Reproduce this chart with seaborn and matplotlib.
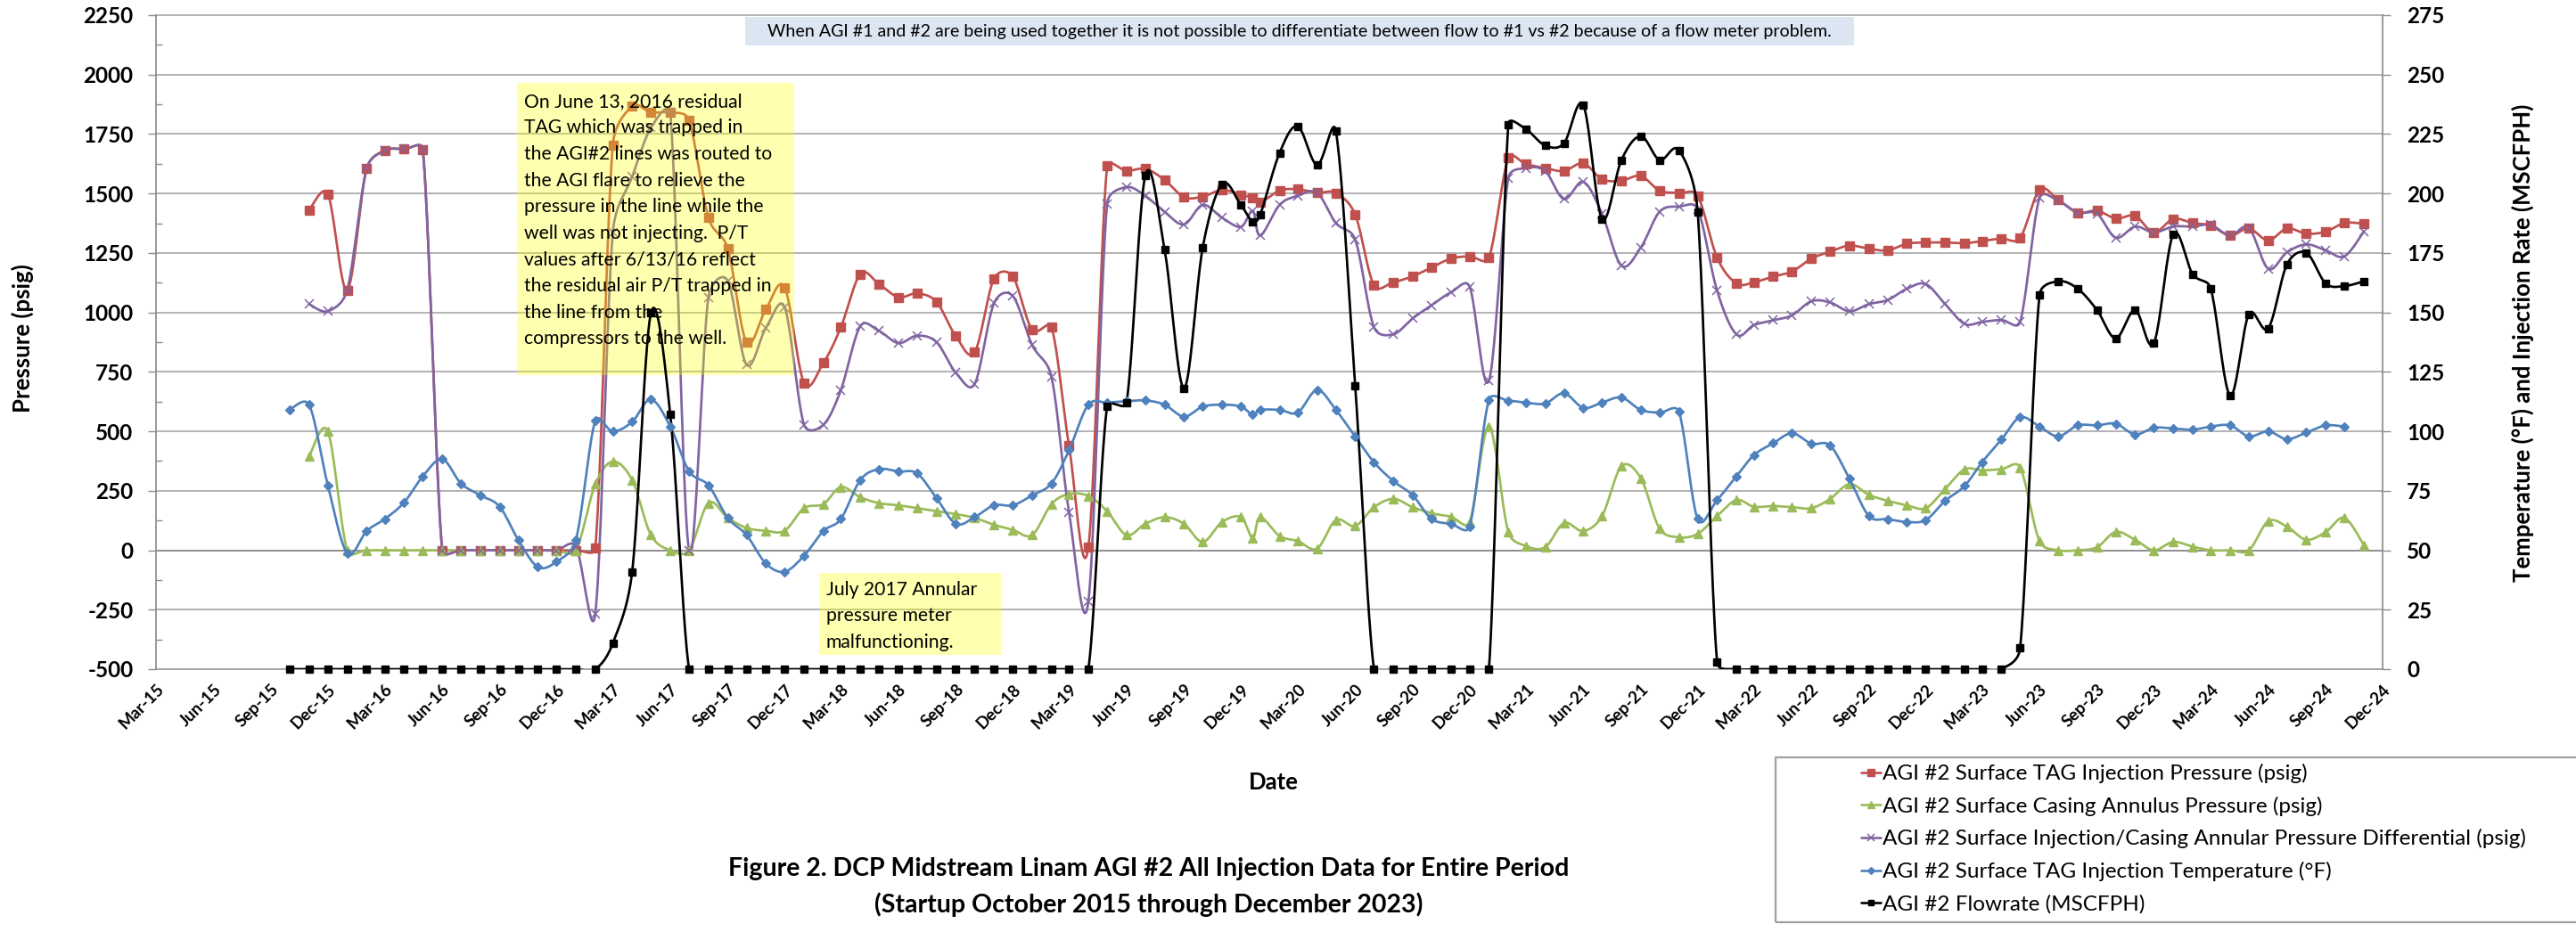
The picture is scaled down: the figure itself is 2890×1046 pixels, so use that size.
import numpy as np
import pandas as pd
import matplotlib
matplotlib.use("Agg")
import matplotlib.pyplot as plt
import matplotlib.dates as mdates
from matplotlib.ticker import MultipleLocator
from matplotlib.lines import Line2D
from matplotlib.patches import Rectangle
import seaborn as sns

# ---------------- data ----------------
# monthly readings Oct-2015 .. Nov-2024 (one extra reading late Dec-2019)
dates = (list(pd.date_range("2015-10-01", "2019-12-01", freq="MS"))
         + [pd.Timestamp("2019-12-20")]
         + list(pd.date_range("2020-01-01", "2024-11-01", freq="MS")))

# AGI #2 surface TAG injection pressure (psig)
tag_pressure = [
    np.nan, 1431, 1498, 1094, 1604, 1681, 1687, 1686, 0, 0,
    0, 0, 0, 0, 0, 0, 10, 1704, 1866, 1841,
    1841, 1808, 1398, 1268, 875, 1014, 1105, 704, 788, 938,
    1161, 1119, 1064, 1080, 1044, 900, 833, 1142, 1151, 927,
    938, 440, 14, 1615, 1595, 1604, 1557, 1485, 1487, 1515,
    1495, 1482, 1462, 1512, 1518, 1503, 1502, 1411, 1114, 1127,
    1152, 1189, 1226, 1236, 1231, 1649, 1624, 1607, 1595, 1627,
    1560, 1554, 1574, 1512, 1502, 1490, 1231, 1122, 1127, 1151,
    1172, 1226, 1256, 1281, 1268, 1261, 1289, 1294, 1294, 1291,
    1300, 1311, 1314, 1515, 1473, 1420, 1428, 1395, 1406, 1336,
    1393, 1376, 1365, 1323, 1353, 1303, 1353, 1331, 1340, 1376, 1373,
]

# AGI #2 surface casing annulus pressure (psig)
annulus_pressure = [
    np.nan, 395, 500, 0, 0, 0, 0, 0, 0, 0,
    0, 0, 0, 0, 0, 0, 278, 373, 295, 64,
    0, 0, 198, 136, 94, 82, 82, 177, 194, 266,
    223, 198, 189, 177, 164, 152, 136, 107, 86, 64,
    194, 236, 228, 164, 64, 111, 139, 111, 35, 119,
    139, 52, 139, 60, 39, 7, 127, 102, 181, 216,
    181, 156, 141, 119, 520, 77, 18, 13, 114, 81,
    144, 353, 303, 91, 55, 69, 144, 211, 183, 186,
    181, 177, 216, 278, 233, 208, 189, 177, 258, 340,
    336, 341, 348, 39, 0, 0, 13, 77, 44, 0,
    35, 15, 0, 0, 0, 122, 99, 44, 77, 136, 22,
]

# AGI #2 injection / casing annular pressure differential (psig)
pressure_diff = [
    np.nan, 1035, 1005, 1094, 1604, 1681, 1687, 1686, 0, 0,
    0, 0, 0, 0, 0, 15, -266, 1335, 1571, 1777,
    1841, 0, 1064, 1132, 780, 935, 1022, 528, 528, 674,
    942, 922, 871, 902, 875, 746, 699, 1039, 1069, 863,
    729, 161, -215, 1457, 1527, 1490, 1423, 1370, 1452, 1398,
    1360, 1427, 1323, 1452, 1490, 1503, 1376, 1306, 938, 908,
    975, 1030, 1084, 1109, 713, 1565, 1607, 1594, 1477, 1549,
    1415, 1197, 1273, 1423, 1445, 1435, 1092, 908, 947, 967,
    988, 1047, 1042, 1005, 1035, 1052, 1100, 1119, 1035, 952,
    960, 968, 960, 1482, 1470, 1420, 1415, 1314, 1361, 1336,
    1361, 1361, 1368, 1323, 1356, 1184, 1253, 1286, 1261, 1236, 1340,
]

# AGI #2 surface TAG injection temperature (deg F)
tag_temperature = [
    109.2, 111.2, 77.3, 48.8, 58.1, 63.1, 70.1, 81.1, 88.3, 78.1,
    73.1, 68.3, 54.2, 43.0, 45.2, 54.4, 104.5, 100.0, 104.0, 113.4,
    102.0, 83.3, 77.3, 63.6, 56.4, 44.4, 41.0, 47.7, 58.1, 63.2,
    79.5, 84.1, 83.1, 82.3, 71.9, 61.1, 63.9, 68.9, 68.9, 73.1,
    78.1, 92.0, 111.2, 112.1, 112.6, 113.0, 111.2, 106.2, 110.4, 111.2,
    110.4, 107.0, 109.0, 109.0, 107.9, 117.4, 109.0, 97.8, 87.0, 79.1,
    73.1, 63.2, 61.1, 59.9, 113.2, 112.9, 112.1, 111.7, 116.0, 109.9,
    112.1, 114.2, 109.0, 107.9, 108.2, 63.2, 71.1, 81.1, 90.0, 95.0,
    99.2, 94.8, 94.0, 80.0, 64.4, 63.1, 61.9, 62.7, 70.8, 77.0,
    87.0, 96.5, 105.9, 102.0, 97.9, 102.5, 102.5, 103.2, 98.7, 101.5,
    101.2, 100.7, 102.0, 102.5, 97.9, 100.0, 96.7, 99.5, 102.5, 102.0, np.nan,
]

# AGI #2 flowrate (MSCFPH)
flowrate = [
    0, 0, 0, 0, 0, 0, 0, 0, 0, 0,
    0, 0, 0, 0, 0, 0, 0, 10.9, 41.0, 149.7,
    107.0, 0, 0, 0, 0, 0, 0, 0, 0, 0,
    0, 0, 0, 0, 0, 0, 0, 0, 0, 0,
    0, 0, 0, 110.4, 112.0, 207.4, 176.4, 118.2, 177.3, 204.0,
    195.2, 188.1, 191.1, 217.1, 228.3, 212.0, 226.3, 119.1, 0, 0,
    0, 0, 0, 0, 0, 229.1, 227.1, 220.2, 221.1, 237.1,
    189.3, 214.1, 224.1, 214.1, 218.2, 192.3, 3.0, 0, 0, 0,
    0, 0, 0, 0, 0, 0, 0, 0, 0, 0,
    0, 0, 8.9, 157.2, 163.1, 160.0, 151.0, 139.1, 151.0, 137.1,
    182.8, 166.1, 160.0, 115.1, 149.2, 143.3, 170.2, 175.1, 162.2, 161.1, 163.1,
]

series_labels = [
    "AGI #2 Surface TAG Injection Pressure (psig)",
    "AGI #2 Surface Casing Annulus Pressure (psig)",
    "AGI #2 Surface Injection/Casing Annular Pressure Differential (psig)",
    "AGI #2 Surface TAG Injection Temperature (\u00b0F)",
    "AGI #2 Flowrate (MSCFPH)",
]

pressure_ticks = list(range(-500, 2251, 250))
right_ticks = list(range(0, 276, 25))
date_ticks = pd.date_range("2015-03-01", "2024-12-01", freq="3MS")

note_flow_meter = ("When AGI #1 and #2 are being used together it is not possible to "
                   "differentiate between flow to #1 vs #2 because of a flow meter problem.")
note_residual = ["On June 13, 2016 residual", "TAG which was trapped in",
                 "the AGI#2 lines was routed to", "the AGI flare to relieve the",
                 "pressure in the line while the", "well was not injecting.  P/T",
                 "values after 6/13/16 reflect", "the residual air P/T trapped in",
                 "the line from the", "compressors to the well."]
note_annular = ["July 2017 Annular", "pressure meter", "malfunctioning."]
title_lines = ["Figure 2. DCP Midstream Linam AGI #2 All Injection Data for Entire Period",
               "(Startup October 2015 through December 2023)"]

# ---------------- style ----------------
sns.set_theme(style="white")
plt.rcParams["font.family"] = ["Lato", "DejaVu Sans"]
plt.rcParams["axes.unicode_minus"] = False
for k in ("text.color", "axes.labelcolor", "xtick.color", "ytick.color"):
    plt.rcParams[k] = "black"

RED, GREEN, PURPLE, BLUE, BLACK = "#C0504D", "#9BBB59", "#8064A2", "#4F81BD", "#000000"
AXIS_GRAY, GRID_GRAY = "#8C8C8C", "#A6A6A6"

W, H = 2890, 1046
fig = plt.figure(figsize=(W / 100, H / 100), dpi=100)
PL, PR, PT, PB = 175, 2673, 17, 751
ax1 = fig.add_axes([PL / W, 1 - PB / H, (PR - PL) / W, (PB - PT) / H])
ax2 = ax1.twinx()

x = mdates.date2num(pd.to_datetime(dates))
xlim = (mdates.date2num(pd.Timestamp("2015-03-01")), mdates.date2num(pd.Timestamp("2024-12-01")))
ax1.set_xlim(*xlim)
ax1.set_ylim(-500, 2250)
ax2.set_ylim(0, 275)


def smooth_path(ax, xs, ys, n=24):
    """Bezier smoothing in screen space (tangent arms capped at half the segment)."""
    pts = ax.transData.transform(np.column_stack([xs, ys]))
    m = len(pts)
    out = [pts[:1]]
    t = np.linspace(0, 1, n)[1:, None]
    for k in range(m - 1):
        p0 = pts[k - 1] if k > 0 else pts[k]
        p1, p2 = pts[k], pts[k + 1]
        p3 = pts[k + 2] if k + 2 < m else pts[k + 1]
        half = np.hypot(*(p2 - p1)) / 2
        a = (p2 - p0) / 6.0
        b = (p3 - p1) / 6.0
        la, lb = np.hypot(*a), np.hypot(*b)
        if la > half and la > 0:
            a = a * half / la
        if lb > half and lb > 0:
            b = b * half / lb
        c1, c2 = p1 + a, p2 - b
        seg = ((1 - t) ** 3) * p1 + 3 * ((1 - t) ** 2) * t * c1 + 3 * (1 - t) * t ** 2 * c2 + t ** 3 * p2
        out.append(seg)
    return ax.transData.inverted().transform(np.vstack(out))


styles = [
    (ax1, tag_pressure, RED, "s", 7.0, 1.0),
    (ax1, annulus_pressure, GREEN, "^", 7.0, 1.0),
    (ax1, pressure_diff, PURPLE, "x", 6.5, 1.1),
    (ax2, tag_temperature, BLUE, "D", 5.6, 1.0),
    (ax2, flowrate, BLACK, "s", 5.4, 1.0),
]

for ax, vals, color, marker, ms, mew in styles:
    v = np.asarray(vals, dtype=float)
    ok = ~np.isnan(v)
    path = smooth_path(ax, x[ok], v[ok])
    sns.lineplot(x=path[:, 0], y=path[:, 1], ax=ax, color=color, lw=1.95,
                 sort=False, estimator=None, zorder=3)
    ax.plot(x[ok], v[ok], ls="none", marker=marker, ms=ms, mfc=color, mec=color,
            mew=mew, clip_on=False, zorder=4)

ax1.set_xlim(*xlim)
ax1.set_ylim(-500, 2250)
ax2.set_ylim(0, 275)
for ax in (ax1, ax2):
    ax.set_xlabel("")
    ax.set_ylabel("")

# ---------------- axes ----------------
ax1.set_yticks(pressure_ticks, labels=[str(v) for v in pressure_ticks],
               fontsize=17.5, fontweight="bold")
ax1.yaxis.set_minor_locator(MultipleLocator(125))
ax1.tick_params(axis="y", which="major", direction="out", length=6.5, width=1,
                color=AXIS_GRAY, pad=12)
ax1.tick_params(axis="y", which="minor", direction="in", length=5, width=1, color=AXIS_GRAY)
ax1.grid(axis="y", color=GRID_GRAY, lw=1.2)
ax1.grid(axis="x", visible=False)
ax1.set_axisbelow(True)
for gl in ax1.get_ygridlines():
    gl.set_clip_on(False)

ax1.xaxis.set_major_locator(mdates.MonthLocator(bymonth=(3, 6, 9, 12)))
ax1.xaxis.set_minor_locator(mdates.MonthLocator())
ax1.tick_params(axis="x", which="major", direction="inout", length=8, width=1,
                color=AXIS_GRAY, labelbottom=False)
ax1.tick_params(axis="x", which="minor", direction="in", length=3.5, width=1, color=AXIS_GRAY)
ax1.spines["bottom"].set_position(("data", 0))
ax1.spines["bottom"].set_color(AXIS_GRAY)
ax1.spines["left"].set_color(AXIS_GRAY)
ax1.spines["top"].set_visible(False)
ax1.spines["right"].set_visible(False)

ax2.set_yticks(right_ticks, labels=[str(v) for v in right_ticks],
               fontsize=17.5, fontweight="bold")
ax2.tick_params(axis="y", which="major", direction="out", length=6.5, width=1,
                color=AXIS_GRAY, pad=13)
for s in ("top", "left", "bottom"):
    ax2.spines[s].set_visible(False)
ax2.spines["right"].set_color(AXIS_GRAY)

sec = ax1.secondary_xaxis("bottom")
sec.set_ticks(mdates.date2num(date_ticks), labels=[d.strftime("%b-%y") for d in date_ticks],
              rotation=45, ha="right", rotation_mode="anchor", fontsize=13.5, fontweight="bold")
sec.tick_params(axis="x", length=0, pad=10)
sec.spines["bottom"].set_color(GRID_GRAY)
sec.spines["bottom"].set_linewidth(1.3)

# ---------------- notes ----------------
def fig_xy(px, py):
    return px / W, 1 - py / H


def add_box(x0, y0, x1, y1, color, alpha=1.0, z=10):
    r = Rectangle(fig_xy(x0, y1), (x1 - x0) / W, (y1 - y0) / H, transform=fig.transFigure,
                  facecolor=color, edgecolor="none", alpha=alpha, zorder=z, clip_on=False)
    ax1.add_artist(r)


add_box(836, 19, 2080, 51, "#DCE6F2")
ax1.text(*fig_xy(1458, 35.5), note_flow_meter, transform=fig.transFigure, ha="center",
         va="center", fontsize=14.1, zorder=11)

add_box(580, 93.5, 891, 420.7, (1.0, 1.0, 0.0), alpha=0.31)
for k, line in enumerate(note_residual):
    ax1.text(*fig_xy(588, 113.6 + 29.65 * k), line, transform=fig.transFigure, ha="left",
             va="center", fontsize=15.2, zorder=11)

add_box(919, 642.6, 1123, 735, (1.0, 1.0, 0.0), alpha=0.31)
for k, line in enumerate(note_annular):
    ax1.text(*fig_xy(927, 661.8 + 29.5 * k), line, transform=fig.transFigure, ha="left",
             va="center", fontsize=15.2, zorder=11)

# ---------------- labels ----------------
fig.text(*fig_xy(25, 380), "Pressure (psig)", rotation=90, ha="center", va="center",
         fontsize=18.5, fontweight="bold")
fig.text(*fig_xy(2830, 385), "Temperature (\u00b0F) and Injection Rate (MSCFPH)", rotation=90,
         ha="center", va="center", fontsize=18.5, fontweight="bold")
fig.text(*fig_xy(1429, 878), "Date", ha="center", va="center", fontsize=18.5, fontweight="bold")
fig.text(*fig_xy(1289, 975), title_lines[0], ha="center", va="center", fontsize=20.5,
         fontweight="bold")
fig.text(*fig_xy(1289, 1015), title_lines[1], ha="center", va="center", fontsize=20.5,
         fontweight="bold")

# ---------------- legend ----------------
fig.add_artist(Rectangle(fig_xy(1992, 1035), (2895 - 1992) / W, (1035 - 850) / H,
                         transform=fig.transFigure, fill=False, edgecolor="#A0A0A0", lw=1.6))
handles = [Line2D([], [], color=c, lw=1.9, marker=m, ms=ms * 0.8, mfc=c, mec=c, mew=mew)
           for _, _, c, m, ms, mew in styles]
fig.legend(handles, series_labels, loc="upper left", bbox_to_anchor=fig_xy(2088, 857),
           frameon=False, fontsize=17.5, handlelength=0.9, handletextpad=0.1,
           labelspacing=0.6, borderaxespad=0, borderpad=0)

fig.savefig("out.png", dpi=100)
